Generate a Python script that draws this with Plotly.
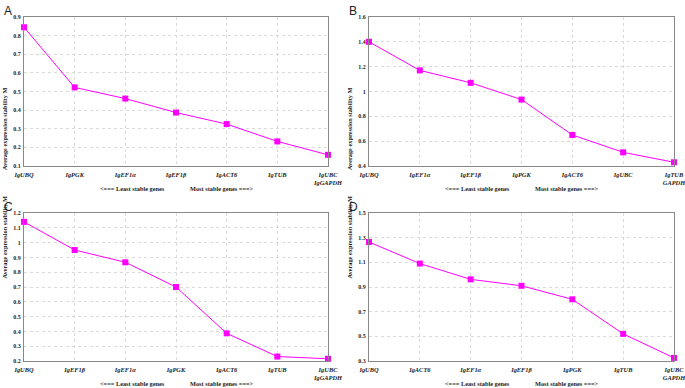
import plotly.graph_objects as go
from plotly.subplots import make_subplots

# ---- data ----
genes_a = ["IgUBQ", "IgPGK", "IgEF1α", "IgEF1β", "IgACT6", "IgTUB", "IgUBC<br>IgGAPDH"]
m_a = [0.845, 0.522, 0.462, 0.387, 0.325, 0.232, 0.160]

genes_b = ["IgUBQ", "IgEF1α", "IgEF1β", "IgPGK", "IgACT6", "IgUBC", "IgTUB<br>GAPDH"]
m_b = [1.40, 1.17, 1.07, 0.935, 0.65, 0.51, 0.43]

genes_c = ["IgUBQ", "IgEF1β", "IgEF1α", "IgPGK", "IgACT6", "IgTUB", "IgUBC<br>IgGAPDH"]
m_c = [1.14, 0.95, 0.867, 0.70, 0.387, 0.23, 0.215]

genes_d = ["IgUBQ", "IgACT6", "IgEF1α", "IgEF1β", "IgPGK", "IgTUB", "IgUBC<br>GAPDH"]
m_d = [1.265, 1.09, 0.962, 0.91, 0.80, 0.52, 0.325]

panel_letters = ["A", "B", "C", "D"]
y_ranges = [(0.1, 0.9, 0.1, 0.1), (0.4, 1.6, 0.4, 0.2), (0.2, 1.2, 0.2, 0.1), (0.3, 1.5, 0.3, 0.2)]

W, H = 685, 388
# panel pixel boxes: (left, right, top, bottom)
boxes = [(24, 328, 17, 166), (369, 674, 17, 166), (24, 328, 213, 361), (369, 674, 213, 361)]

fig = make_subplots(rows=2, cols=2)
series = [(genes_a, m_a), (genes_b, m_b), (genes_c, m_c), (genes_d, m_d)]
MAG = "#FF00FF"

for i, ((g, m), box, yr) in enumerate(zip(series, boxes, y_ranges)):
    r, c = i // 2 + 1, i % 2 + 1
    fig.add_trace(go.Scatter(x=g, y=m, mode="lines+markers",
                             line=dict(color=MAG, width=1),
                             marker=dict(symbol="square", size=6, color=MAG),
                             cliponaxis=False, showlegend=False), row=r, col=c)
    l, rt, t, b = box
    xa = "xaxis" if i == 0 else f"xaxis{i+1}"
    ya = "yaxis" if i == 0 else f"yaxis{i+1}"
    fig.layout[xa].update(domain=[l / W, rt / W], automargin=False)
    fig.layout[ya].update(domain=[1 - b / H, 1 - t / H], automargin=False)
    fig.update_xaxes(type="category", range=[0, 6], showgrid=True, gridcolor="#dadada",
                     griddash="dot", gridwidth=1, showline=True, linecolor="#888",
                     linewidth=1, mirror=True, ticks="outside", ticklen=2,
                     tickcolor="rgba(0,0,0,0)",
                     tickfont=dict(family="Liberation Serif", size=6.4, color="#222",
                                   style="italic", weight="bold"),
                     row=r, col=c)
    fig.update_yaxes(range=[yr[0], yr[1]], tick0=yr[2], dtick=yr[3], showgrid=True,
                     gridcolor="#dadada", griddash="dot", gridwidth=1, showline=True,
                     linecolor="#888", linewidth=1, mirror=True, zeroline=False,
                     ticks="outside", ticklen=1, tickcolor="rgba(0,0,0,0)",
                     tickfont=dict(family="Liberation Serif", size=6, color="#222",
                                   weight="bold"),
                     row=r, col=c)
    # panel letter
    fig.add_annotation(text=panel_letters[i], x=(l - 22) / W, y=1 - (t - 15) / H,
                       xref="paper", yref="paper", xanchor="left", yanchor="top",
                       showarrow=False, font=dict(family="Liberation Sans", size=12, color="#222"))
    # y title
    fig.add_annotation(text="<b>Average expression stability M</b>", x=(l - 20) / W,
                       y=1 - ((t + b) / 2 - 6) / H, xref="paper", yref="paper",
                       xanchor="center", textangle=-90, showarrow=False,
                       font=dict(family="Liberation Serif", size=6.3, color="#222"))
    # stability labels
    ybot = 1 - (b + 22) / H
    fig.add_annotation(text="<b>&lt;=== Least stable genes</b>", x=(l + 143) / W, y=ybot,
                       xref="paper", yref="paper", xanchor="right", yanchor="middle",
                       showarrow=False, font=dict(family="Liberation Serif", size=6.3, color="#222"))
    fig.add_annotation(text="<b>Most stable genes ===&gt;</b>", x=(l + 164) / W, y=ybot,
                       xref="paper", yref="paper", xanchor="left", yanchor="middle",
                       showarrow=False, font=dict(family="Liberation Serif", size=6.3, color="#222"))

fig.update_layout(width=W, height=H, margin=dict(l=0, r=0, t=0, b=0),
                  plot_bgcolor="white", paper_bgcolor="white")
fig.write_html("out.html", config={"displayModeBar": False},
               post_script="document.body.style.margin='0';document.body.style.overflow='hidden';")
